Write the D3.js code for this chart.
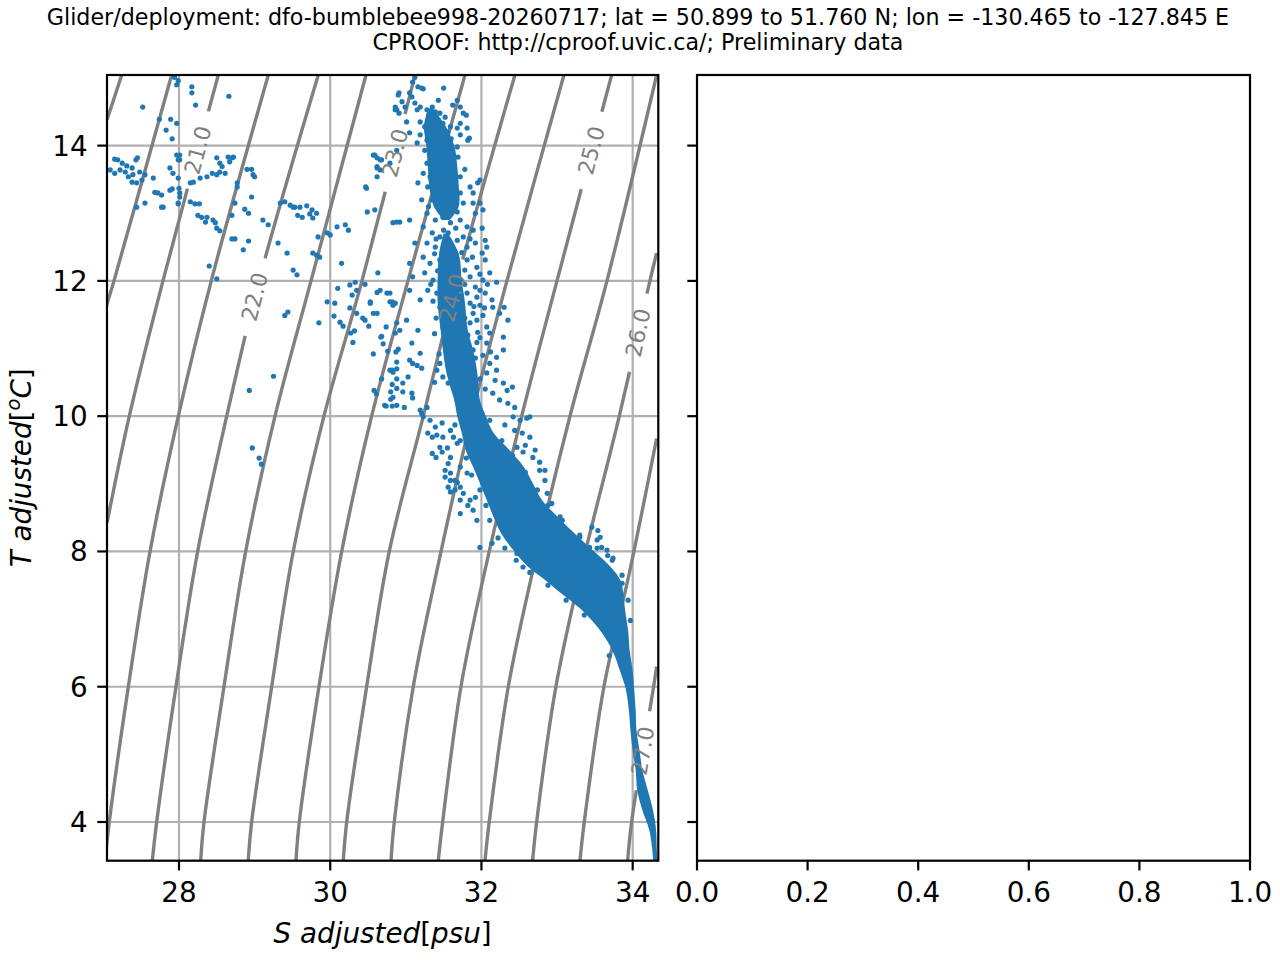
<!DOCTYPE html>
<html>
<head>
<meta charset="utf-8">
<script src="https://d3js.org/d3.v7.min.js"></script>
<title>T-S diagram</title>
<style>
body { margin: 0; background: #fff; }
text { font-family: "DejaVu Sans", sans-serif; }
</style>
</head>
<body>
<script>
// axis ranges and ticks
const sRange = [27.048, 34.339];
const tRange = [3.428, 15.044];
const sTicks = [28, 30, 32, 34];
const tTicks = [4, 6, 8, 10, 12, 14];
const emptyTicks = [0, 0.2, 0.4, 0.6, 0.8, 1.0];

const titleLines = [
  "Glider/deployment: dfo-bumblebee998-20260717; lat = 50.899 to 51.760 N; lon = -130.465 to -127.845 E",
  "CPROOF: http://cproof.uvic.ca/; Preliminary data"
];

// sigma0 isolines as [S, T] pairs (bottom to top)
const sigmaLevels = [20.0, 20.5, 21.0, 21.5, 22.0, 22.5, 23.0, 23.5, 24.0, 24.5, 25.0, 25.5, 26.0, 26.5, 27.0];
const sigmaCurves = [
  [[27.048,14.38],[27.242,15.044]],
  [[27.04,11.63],[27.140,12.0],[27.903,15.044]],
  [[27.048,8.42],[27.343,10.0],[27.788,12.0],[28.520,15.044]],
  [[27.02,3.428],[27.078,4],[27.330,6],[27.617,8],[27.991,10],[28.427,12],[29.181,15.044]],
  [[27.647,3.428],[27.705,4],[27.960,6],[28.247,8],[28.631,10],[29.058,12],[29.842,15.044]],
  [[28.287,3.428],[28.331,4],[28.595,6],[28.882,8],[29.270,10],[29.746,12],[30.473,15.044]],
  [[28.916,3.428],[28.961,4],[29.226,6],[29.511,8],[29.917,10],[30.420,12],[31.121,15.044]],
  [[29.547,3.428],[29.591,4],[29.851,6],[30.152,8],[30.548,10],[31.028,12],[31.782,15.044]],
  [[30.173,3.428],[30.218,4],[30.482,6],[30.781,8],[31.231,10],[31.676,12],[32.443,15.044]],
  [[30.804,3.428],[30.847,4],[31.098,6],[31.412,7.722],[31.871,10],[32.337,12],[33.091,15.044]],
  [[31.429,3.428],[31.487,4],[31.729,6],[32.047,7.722],[32.532,10],[32.999,12],[33.722,15.044]],
  [[32.047,3.428],[32.103,4],[32.355,6],[32.681,7.722],[33.171,10],[33.660,12],[34.317,15.044]],
  [[32.677,3.428],[32.730,4],[32.985,6],[33.316,7.722],[33.823,10],[34.228,12],[34.317,12.41]],
  [[33.303,3.428],[33.360,4],[33.620,6],[33.964,7.722],[34.317,9.67]],
  [[33.934,3.428],[33.986,4],[34.277,6],[34.317,6.30]]
];
const labelLevels = [21.0, 22.0, 23.0, 24.0, 25.0, 26.0, 27.0];
const labelS = [28.251, 29.005, 30.817, 31.610, 33.435, 34.030, 34.109];
const labelT = [13.935, 11.760, 13.905, 11.746, 13.935, 11.247, 5.059];

// glider samples
const salinity = [
  27.52,27.94,27.99,27.97,28.17,28.17,28.22,28.66,27.74,27.89,27.97,27.83,27.91,27.97,27.99,
  27.15,27.19,27.25,27.31,27.38,27.43,27.45,27.09,27.15,27.22,27.29,27.39,27.48,27.55,27.38,
  27.44,27.51,27.33,27.44,27.55,27.66,27.68,27.72,27.77,27.79,27.88,27.88,27.92,27.99,28.00,
  28.01,27.99,28.01,28.01,28.15,28.19,28.28,28.37,28.44,28.50,28.54,28.61,28.50,28.54,28.57,
  28.65,28.70,28.72,28.67,28.90,28.96,28.98,29.00,28.77,28.77,28.15,28.21,28.27,28.25,28.30,
  28.37,28.35,28.45,28.48,28.50,28.54,28.01,27.91,27.77,27.99,28.70,28.74,28.85,28.92,28.40,
  28.50,28.74,28.87,28.92,28.96,29.11,29.18,29.31,29.43,28.70,29.34,29.40,29.47,29.53,29.60,
  29.69,29.76,29.82,29.57,29.63,29.73,29.77,29.51,29.84,29.96,30.00,30.09,30.20,30.24,29.77,
  29.82,29.86,29.51,29.56,30.15,30.10,30.26,30.33,30.46,30.35,30.49,30.59,30.63,30.75,30.79,
  30.86,30.57,30.62,30.68,30.62,30.66,30.62,30.47,30.48,30.79,30.88,30.86,30.90,
  29.40,29.44,29.25,28.93,28.97,29.06,29.09,29.85,29.96,30.06,30.05,30.13,30.17,30.26,30.29,
  30.35,30.27,30.32,30.30,30.43,30.46,30.51,30.53,30.57,30.62,30.62,30.67,30.70,30.74,30.76,
  30.86,30.82,30.83,30.57,30.79,30.83,30.68,30.88,30.82,30.58,30.61,30.72,30.80,30.88,30.82,
  30.88,30.88,30.87,30.88,
  30.68,30.82,30.90,30.80,30.83,30.74,30.98,30.96,31.08,31.09,30.96,31.03,31.05,31.09,31.15,
  31.19,31.21,31.08,30.92,30.88,31.16,31.01,31.21,31.32,31.29,31.35,31.39,31.41,31.45,31.35,
  31.40,31.48,31.55,31.59,31.56,31.52,31.59,31.68,31.72,31.65,31.76,31.85,31.92,31.72,31.56,
  31.81,31.19,31.23,31.28,31.49,31.48,31.59,31.63,31.68,
  31.45,31.52,31.56,31.49,31.61,31.55,31.63,31.56,31.68,31.61,31.72,31.45,31.41,31.65,31.75,
  31.81,31.49,31.56,31.72,31.85,31.78,31.89,31.94,31.68,31.72,31.85,31.89,31.98,31.89,32.02,
  31.85,31.95,32.07,32.11,31.94,32.07,31.89,32.02,32.11,32.20,32.20,32.29,32.07,32.18,32.29,
  32.34,32.41,32.15,32.24,32.35,32.44,32.42,32.51,32.60,32.64,32.54,32.77,32.68,32.47,32.55,
  32.35,32.24,32.30,32.29,32.15,
  32.87,32.93,33.04,33.30,33.46,33.54,33.53,33.59,33.66,33.74,33.57,33.67,32.55,32.47,31.98,
  32.14,32.64,32.77,32.84,31.52,31.59,31.59,31.65,31.72,31.82,31.89,31.72,31.94,
  31.12,31.09,31.16,31.21,31.23,30.91,31.05,31.08,30.95,30.99,30.88,30.91,31.12,31.19,31.15,
  31.28,31.35,31.39,31.43,31.45,31.52,31.49,31.29,31.25,31.36,31.19,31.01,31.05,31.19,31.15,
  31.28,31.43,31.55,31.59,31.68,31.72,31.76,31.80,31.72,31.82,31.55,31.68,31.25,31.32,31.41,
  31.45,31.55,31.63,31.69,31.28,31.36,31.49,31.56,31.23,31.32,31.43,31.52,31.63,31.72,31.16,
  31.29,31.41,31.49,31.59,31.72,31.85,31.89,31.95,31.98,31.21,31.35,31.45,31.55,31.63,31.76,
  31.89,31.98,32.02,31.92,31.28,31.39,31.49,31.59,31.72,31.81,31.89,32.01,32.05,31.23,31.35,
  31.45,31.56,31.68,31.76,31.28,31.39,31.49,31.63,31.81,31.92,32.01,32.07,31.23,31.32,31.45,
  31.55,31.68,31.81,31.94,32.05,31.25,31.36,31.49,31.59,31.72,31.85,31.92,32.02,32.11,31.29,
  31.41,31.55,31.68,31.81,31.94,32.05,32.14,30.59,30.66,30.62,30.86,30.88,31.68,31.72,31.81,
  31.84,31.05,30.92,30.83,30.66,30.53,30.79,31.05,31.19,31.05,31.12,31.09,32.20,31.85,31.98,
  31.65,31.72,31.80,31.87,31.98,32.06,32.11,32.22,32.31,32.46,32.64,32.88,33.12,33.36,
  32.11,32.27,32.41,32.58,32.74,32.88,33.07,33.30,33.53,33.73,33.86,33.94,33.97,
  33.26,33.47,33.43,33.83,33.86,33.69,32.58,32.71,32.84,32.51,32.44,32.31,
  31.38,31.52,31.60,31.74,31.88,31.42,31.62,31.78,31.98,31.33,31.46,31.66,31.78,32.08,31.36,
  31.50,31.62,31.74,31.90,32.04,31.40,31.66,31.78,31.94,31.38,31.70,31.82,31.98,31.44,31.80,
  31.92,32.12,31.38,31.98,32.05,31.50,31.66,31.40,31.58,31.85,31.52,31.68,31.30,31.62,31.78,
  31.40,31.60,31.30,31.62,31.50
];
const temperature = [
  14.57,15.01,14.96,14.90,14.87,14.78,14.60,14.73,14.39,14.39,14.33,14.23,14.10,13.86,13.79,
  13.80,13.79,13.74,13.70,13.67,13.79,13.82,13.64,13.59,13.64,13.61,13.57,13.61,13.57,13.46,
  13.45,13.49,13.54,13.09,13.15,13.52,13.31,13.30,13.27,13.09,13.34,13.67,13.59,13.52,13.37,
  13.24,13.15,13.86,13.79,13.45,13.46,13.52,13.54,13.59,13.57,13.61,13.59,13.82,13.74,13.69,
  13.83,13.82,13.83,13.76,13.65,13.65,13.57,13.54,13.45,13.39,13.17,13.14,13.14,12.97,12.94,
  12.94,12.87,12.90,12.86,12.78,12.74,13.30,13.36,13.09,13.14,12.62,12.62,12.46,12.59,12.22,
  12.03,13.15,13.06,13.00,13.24,12.90,12.83,12.56,12.41,12.97,13.15,13.17,13.12,13.09,13.09,
  13.11,13.05,13.00,12.97,12.94,12.99,12.93,13.09,12.65,12.71,12.68,12.80,12.83,12.75,12.41,
  12.38,12.35,12.16,12.09,12.26,11.89,11.94,11.98,11.95,11.86,13.02,13.05,12.12,11.82,11.69,
  11.67,13.86,13.82,13.79,13.69,13.64,13.54,13.39,13.37,13.74,12.87,14.53,14.75,
  11.49,11.54,10.59,10.38,9.53,9.38,9.29,11.38,11.69,11.67,11.48,11.39,11.33,11.60,11.79,
  11.52,11.23,11.26,11.09,11.45,11.42,11.33,11.67,11.52,11.52,11.83,11.17,11.07,11.32,10.96,
  11.23,11.69,11.64,10.92,10.68,10.65,10.55,10.55,10.47,10.38,10.33,10.16,10.25,10.16,10.15,
  10.41,10.80,10.95,10.70,
  11.18,10.68,10.99,10.36,10.28,10.15,10.13,10.36,10.34,10.27,10.49,10.58,10.83,10.78,10.75,
  10.93,10.71,11.08,11.27,11.38,11.27,11.42,10.04,9.94,9.75,9.69,9.84,9.72,9.54,9.45,
  9.39,9.47,9.53,9.39,9.30,9.10,9.05,9.02,8.95,8.91,8.86,8.76,8.80,9.25,8.95,
  9.16,10.09,9.99,10.13,9.69,9.90,9.79,9.69,9.60,
  11.61,11.52,11.42,11.32,11.24,11.17,11.08,10.98,10.93,10.83,10.78,10.78,10.68,10.65,10.61,
  10.53,10.58,10.49,10.43,10.38,10.31,10.24,10.13,10.24,10.13,10.06,10.01,11.64,11.52,11.49,
  11.38,11.24,11.32,11.23,11.09,11.08,10.98,10.90,10.78,10.87,10.68,10.98,10.64,10.53,10.49,
  10.38,10.43,10.34,10.24,10.19,10.13,9.99,9.94,9.97,9.69,9.75,9.32,9.39,9.54,9.47,
  11.42,11.52,11.61,11.17,11.61,
  8.86,8.71,8.51,8.21,8.36,8.31,8.17,8.06,8.02,7.90,8.21,7.94,7.77,7.97,8.06,
  8.12,9.99,9.20,9.05,9.20,9.16,8.88,9.05,8.76,8.68,8.61,8.56,8.46,
  15.01,14.94,14.87,14.85,14.84,14.78,14.78,14.72,14.65,14.57,14.53,14.48,14.63,14.57,14.53,
  14.53,14.57,14.50,14.67,14.48,14.42,14.33,14.38,14.28,14.30,14.35,14.35,14.19,14.16,14.04,
  14.08,14.13,14.20,14.28,14.26,14.33,14.48,14.45,14.16,14.08,14.05,13.98,13.93,13.86,13.89,
  13.79,13.79,13.83,13.83,13.74,13.69,13.67,13.64,13.59,13.54,13.52,13.54,13.49,13.54,13.45,
  13.39,13.34,13.39,13.31,13.30,13.39,13.30,13.45,13.49,13.20,13.20,13.09,13.20,13.09,13.15,
  13.15,13.15,13.05,13.00,13.00,12.90,12.94,12.86,12.90,12.80,12.75,12.78,12.60,12.80,12.71,
  12.65,12.71,12.60,12.65,12.56,12.50,12.46,12.46,12.50,12.56,12.41,12.50,12.35,12.26,12.31,
  12.20,12.26,12.31,12.20,12.31,12.12,12.01,12.06,11.97,12.01,12.06,11.91,12.01,12.12,11.86,
  11.82,11.82,11.76,11.82,11.76,11.82,11.72,13.86,13.79,13.67,14.57,13.93,14.67,14.57,14.26,
  14.11,12.90,12.87,12.86,11.86,11.69,11.82,11.86,11.72,12.26,12.56,12.06,11.98,11.67,11.86,
  9.87,9.64,9.38,9.13,8.91,8.68,8.46,8.20,8.05,7.87,7.69,7.50,7.28,7.06,
  9.94,9.64,9.42,9.17,8.91,8.68,8.46,8.24,8.05,7.87,7.65,7.28,6.98,
  7.83,7.77,8.06,7.50,7.53,6.46,9.57,9.50,9.20,8.98,9.79,9.87,
  12.40,12.38,12.30,12.42,12.35,12.15,12.12,12.16,12.10,11.95,11.95,11.90,11.95,11.95,11.70,
  11.68,11.62,11.66,11.62,11.60,11.45,11.48,11.45,11.42,11.22,11.15,11.20,11.16,10.92,10.95,
  10.86,10.95,10.50,10.55,10.40,12.75,12.78,12.62,12.55,12.62,13.05,13.02,13.10,13.40,13.65,
  13.98,14.10,14.45,14.60,14.85
];

// where the samples overlap into a solid mass: temperature with salinity edges
const bandT   = [12.70,12.40,12.00,11.70,11.27,10.98,10.68,10.46,10.24,10.00,9.75,9.50,9.25,9.01,8.76,8.51,8.27,8.02,7.77,7.57,7.43,7.13,6.83,6.54,6.24,5.96,5.65,5.36,5.06,4.76,4.47,4.17,3.88,3.58,3.43];
const bandSLo = [31.50,31.44,31.42,31.42,31.46,31.49,31.53,31.58,31.64,31.68,31.74,31.79,31.89,31.98,32.07,32.16,32.26,32.42,32.62,32.85,33.00,33.33,33.57,33.73,33.83,33.91,33.95,33.97,34.00,34.04,34.06,34.13,34.22,34.26,34.27];
const bandSHi = [31.56,31.70,31.74,31.78,31.82,31.89,31.94,31.96,31.98,32.06,32.16,32.37,32.56,32.68,32.80,33.01,33.23,33.47,33.71,33.84,33.87,33.90,33.94,33.96,34.00,34.02,34.04,34.05,34.09,34.13,34.20,34.27,34.31,34.32,34.33];
const capT   = [14.55,14.30,14.00,13.70,13.40,13.10,12.90];
const capSLo = [31.30,31.24,31.27,31.29,31.31,31.37,31.50];
const capSHi = [31.36,31.52,31.64,31.68,31.70,31.70,31.58];

const W = 1280, H = 960;
const box = {x0: 107, x1: 658.3, y0: 75, y1: 860.7};
const box2 = {x0: 697, x1: 1250};
const tickLen = 9.7, lw = 2.2, fs = 27.8;
const blue = "#1f77b4";

const svg = d3.select("body").append("svg").attr("width", W).attr("height", H);
svg.append("rect").attr("width", W).attr("height", H).attr("fill", "#fff");

const xS = d3.scaleLinear().domain(sRange).range([box.x0, box.x1]);
const yT = d3.scaleLinear().domain(tRange).range([box.y1, box.y0]);
const xR = d3.scaleLinear().domain([0, 1]).range([box2.x0, box2.x1]);

svg.append("clipPath").attr("id", "clip").append("rect")
  .attr("x", box.x0).attr("y", box.y0)
  .attr("width", box.x1 - box.x0).attr("height", box.y1 - box.y0);

// title
svg.selectAll("text.title").data(titleLines).join("text")
  .attr("class", "title")
  .attr("x", 638).attr("y", (d, i) => 25 + i * 25)
  .attr("text-anchor", "middle").attr("font-size", 22.2)
  .text(d => d);

// grid
const grid = svg.append("g").attr("stroke", "#b0b0b0").attr("stroke-width", lw);
grid.selectAll("line.gx").data(sTicks).join("line").attr("class", "gx")
  .attr("x1", xS).attr("x2", xS).attr("y1", box.y0).attr("y2", box.y1);
grid.selectAll("line.gy").data(tTicks).join("line").attr("class", "gy")
  .attr("y1", yT).attr("y2", yT).attr("x1", box.x0).attr("x2", box.x1);

// density contours
const curve = d3.line().x(d => xS(d[0])).y(d => yT(d[1])).curve(d3.curveCatmullRom.alpha(0.5));
const cg = svg.append("g").attr("clip-path", "url(#clip)");
const paths = cg.selectAll("path").data(sigmaCurves).join("path")
  .attr("d", curve).attr("fill", "none")
  .attr("stroke", "#808080").attr("stroke-width", 3.4);

// samples
const dg = svg.append("g").attr("clip-path", "url(#clip)");
const area = d3.area().y(d => yT(d[0])).x0(d => xS(d[1])).x1(d => xS(d[2]))
  .curve(d3.curveCatmullRom.alpha(0.5));
dg.append("path").datum(d3.zip(bandT, bandSLo, bandSHi)).attr("d", area).attr("fill", blue);
dg.append("path").datum(d3.zip(capT, capSLo, capSHi)).attr("d", area).attr("fill", blue);
dg.selectAll("circle").data(d3.zip(salinity, temperature)).join("circle")
  .attr("cx", d => xS(d[0])).attr("cy", d => yT(d[1])).attr("r", 2.6).attr("fill", blue);

// contour labels, with the line broken under each one
const lg = svg.append("g").attr("clip-path", "url(#clip)");
labelLevels.forEach((lev, i) => {
  const node = paths.nodes()[sigmaLevels.indexOf(lev)];
  const total = node.getTotalLength();
  const px = xS(labelS[i]), py = yT(labelT[i]);
  let best = 0, bestD = Infinity;
  for (let l = 0; l <= total; l += 0.5) {
    const p = node.getPointAtLength(l);
    const d = (p.x - px) ** 2 + (p.y - py) ** 2;
    if (d < bestD) { bestD = d; best = l; }
  }
  const p0 = node.getPointAtLength(Math.max(0, best - 3));
  const p1 = node.getPointAtLength(Math.min(total, best + 3));
  let ang = Math.atan2(p1.y - p0.y, p1.x - p0.x) * 180 / Math.PI;
  if (ang > 90) ang -= 180;
  if (ang < -90) ang += 180;
  const c = node.getPointAtLength(best);
  const gap = 80;
  const a = Math.max(0, best - gap / 2);
  const g2 = best - gap / 2 < 0 ? best + gap / 2 : gap;
  d3.select(node).attr("stroke-dasharray", `${a},${g2},${total}`);
  lg.append("text")
    .attr("transform", `translate(${c.x},${c.y}) rotate(${ang})`)
    .attr("text-anchor", "middle").attr("dominant-baseline", "central")
    .attr("font-size", 22).attr("fill", "#808080")
    .text(lev.toFixed(1));
});

// frames
[[box.x0, box.x1], [box2.x0, box2.x1]].forEach(([a, b]) => {
  svg.append("rect").attr("x", a).attr("y", box.y0)
    .attr("width", b - a).attr("height", box.y1 - box.y0)
    .attr("fill", "none").attr("stroke", "#000").attr("stroke-width", lw);
});

// ticks
const tk = svg.append("g").attr("stroke", "#000").attr("stroke-width", lw);
tk.selectAll("line.sx").data(sTicks).join("line").attr("class", "sx")
  .attr("x1", xS).attr("x2", xS).attr("y1", box.y1).attr("y2", box.y1 + tickLen);
tk.selectAll("line.rx").data(emptyTicks).join("line").attr("class", "rx")
  .attr("x1", xR).attr("x2", xR).attr("y1", box.y1).attr("y2", box.y1 + tickLen);
[box.x0, box2.x0].forEach((x0, k) => {
  tk.selectAll("line.ty" + k).data(tTicks).join("line").attr("class", "ty" + k)
    .attr("y1", yT).attr("y2", yT).attr("x1", x0 - tickLen).attr("x2", x0);
});

svg.selectAll("text.sl").data(sTicks).join("text").attr("class", "sl")
  .attr("x", xS).attr("y", 902).attr("text-anchor", "middle").attr("font-size", fs)
  .text(d => d);
svg.selectAll("text.rl").data(emptyTicks).join("text").attr("class", "rl")
  .attr("x", xR).attr("y", 902).attr("text-anchor", "middle").attr("font-size", fs)
  .text(d3.format(".1f"));
svg.selectAll("text.tl").data(tTicks).join("text").attr("class", "tl")
  .attr("x", box.x0 - 2 * tickLen).attr("y", d => yT(d) + 10)
  .attr("text-anchor", "end").attr("font-size", fs)
  .text(d => d);

// axis labels
const xl = svg.append("text").attr("x", (box.x0 + box.x1) / 2).attr("y", 943)
  .attr("text-anchor", "middle").attr("font-size", fs);
xl.append("tspan").attr("font-style", "italic").text("S adjusted");
xl.append("tspan").text("[");
xl.append("tspan").attr("font-style", "italic").text("psu");
xl.append("tspan").text("]");

const yl = svg.append("text")
  .attr("transform", `translate(31,${(box.y0 + box.y1) / 2}) rotate(-90)`)
  .attr("text-anchor", "middle").attr("font-size", fs);
yl.append("tspan").attr("font-style", "italic").text("T adjusted");
yl.append("tspan").text("[");
yl.append("tspan").attr("font-style", "italic").attr("font-size", 19.5).attr("dy", -11).text("o");
yl.append("tspan").attr("font-style", "italic").attr("dy", 11).text("C");
yl.append("tspan").text("]");
</script>
</body>
</html>
